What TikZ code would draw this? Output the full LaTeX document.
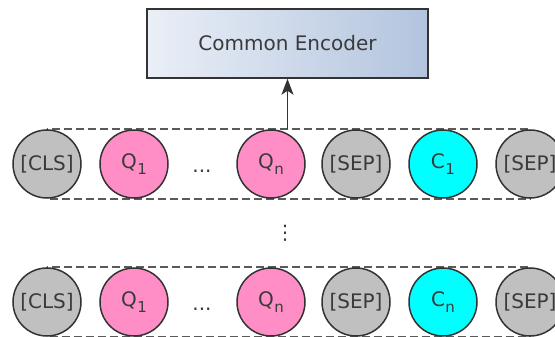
\documentclass[tikz,border=0pt]{standalone}
\usepackage{fontspec}
\setmainfont{DejaVu Sans}
\usetikzlibrary{arrows.meta,backgrounds}
\definecolor{tokgray}{HTML}{C0C0C0}
\definecolor{tokpink}{HTML}{FF8EC6}
\definecolor{tokcyan}{HTML}{00FFFF}
\definecolor{edgecol}{HTML}{333333}
\definecolor{txtcol}{HTML}{3A3A3A}
\definecolor{dashcol}{HTML}{5A5A5A}
\definecolor{boxl}{HTML}{EAEFF7}
\definecolor{boxr}{HTML}{B2C4DE}
% token label with a large, lowered index
\newcommand{\tokidx}[2]{#1\kern0.5pt\raisebox{-6pt}{\fontsize{15}{15}\selectfont #2}}

\begin{document}
\begin{tikzpicture}[x=1pt,y=-1pt,
  token/.style={circle, draw=edgecol, line width=1.5pt, minimum size=68pt,
    inner sep=0pt, text=txtcol, font=\fontsize{20}{22}\selectfont},
  graytok/.style={token, fill=tokgray},
  pinktok/.style={token, fill=tokpink},
  cyantok/.style={token, fill=tokcyan},
  encbox/.style={rectangle, draw=edgecol, line width=1.5pt, left color=boxl,
    right color=boxr, minimum width=281pt, minimum height=69pt,
    text=txtcol, font=\fontsize{20}{22}\selectfont},
  seqframe/.style={draw=dashcol, line width=2.2pt, dash pattern=on 8pt off 4pt},
  dotstxt/.style={text=txtcol, font=\fontsize{20}{22}\selectfont, inner sep=0pt},
  flow/.style={draw=edgecol, line width=1.8pt,
    -{Stealth[length=16pt,width=12pt,inset=4pt]}}]
\useasboundingbox (0,0) rectangle (555,337);
\clip (0,0) rectangle (555,337);

% encoder
\node[encbox] (enc) at (287.5,43.5) {Common Encoder};

% first sequence
\node[graytok] (clsA) at (47,164) {[CLS]};
\node[pinktok] (qoneA) at (134,164) {\tokidx{Q}{1}};
\node[dotstxt, anchor=base] (hdotsA) at (202,172) {...};
\node[pinktok] (qnA) at (271,164) {\tokidx{Q}{n}};
\node[graytok] (sepA) at (356,164) {[SEP]};
\node[cyantok] (cA) at (443,164) {\tokidx{C}{1}};
\node[graytok] (sepAA) at (530,164) {[SEP]};

% vertical ellipsis between the sequences
\node[dotstxt] (vdots) at (285,233) {⋮};

% last sequence
\node[graytok] (clsB) at (47,302) {[CLS]};
\node[pinktok] (qoneB) at (134,302) {\tokidx{Q}{1}};
\node[dotstxt, anchor=base] (hdotsB) at (202,310) {...};
\node[pinktok] (qnB) at (271,302) {\tokidx{Q}{n}};
\node[graytok] (sepB) at (356,302) {[SEP]};
\node[cyantok] (cB) at (443,302) {\tokidx{C}{n}};
\node[graytok] (sepBB) at (530,302) {[SEP]};

% dashed frames behind the tokens
\begin{scope}[on background layer]
  \draw[seqframe] (clsA.north) rectangle (sepAA.south);
  \draw[seqframe] (clsB.north) rectangle (sepBB.south);
\end{scope}

% input to encoder
\coordinate (foot) at (enc.south |- clsA.north);
\draw[flow] (foot) -- (enc.south);
\end{tikzpicture}
\end{document}
